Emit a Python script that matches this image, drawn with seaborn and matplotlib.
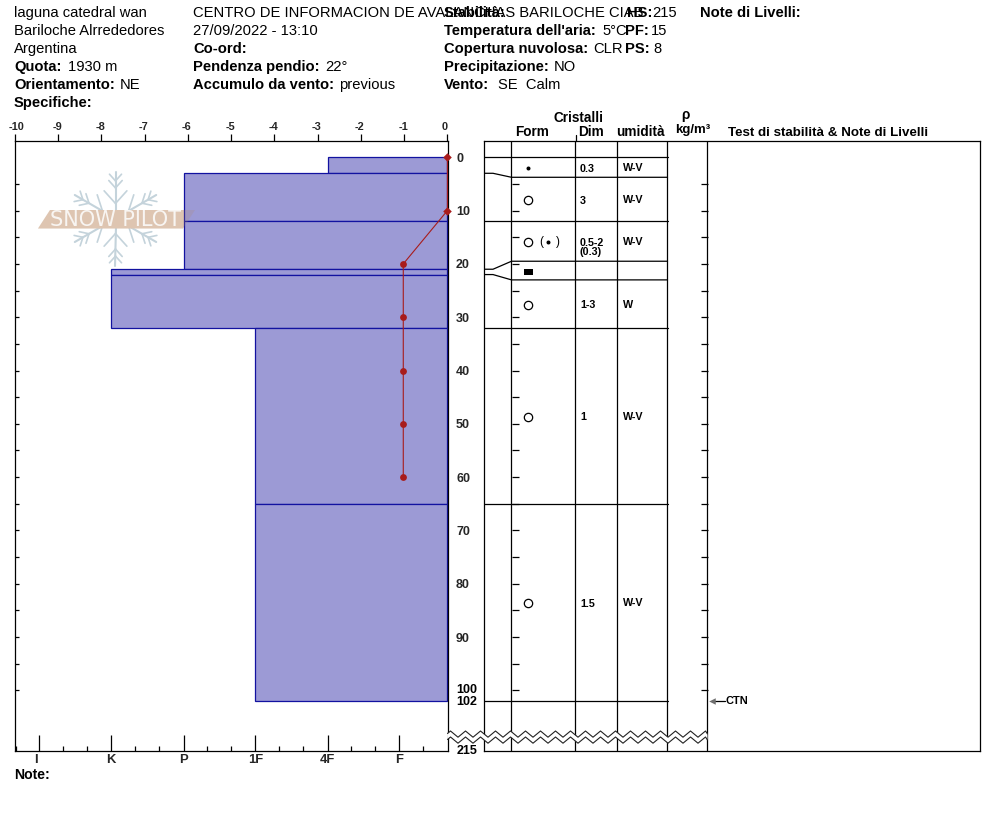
import numpy as np
import matplotlib
matplotlib.use("Agg")
import matplotlib.pyplot as plt
import seaborn as sns
import pandas as pd
from matplotlib.transforms import Affine2D, ScaledTranslation
from matplotlib.lines import Line2D
from matplotlib.patches import Polygon

W, H = 994, 840
sns.set_theme(style="white")
plt.rcParams["font.family"] = ["Liberation Sans", "DejaVu Sans"]

# ---- data ----
layer_tops = [0, 3, 12, 21, 22, 32, 65]
layer_bottoms = [3, 12, 21, 22, 32, 65, 102]
layer_hardness = [-2.77, -6.1, -6.1, -7.77, -7.77, -4.45, -4.45]
ram_depth = [0, 10, 20, 30, 40, 50, 60]
ram_force = [0, 0, -1.02, -1.02, -1.02, -1.02, -1.02]
force_ticks = [-10, -9, -8, -7, -6, -5, -4, -3, -2, -1, 0]
hardness_pos = [-9.44, -7.77, -6.1, -4.44, -2.77, -1.11]
hardness_labels = ["I", "K", "P", "1F", "4F", "F"]
row_depths = [0, 3.75, 12, 19.5, 23, 32, 65, 102]
layer_lines = [0, 3, 12, 21, 22, 32, 65, 102]
row_sizes = ["0.3", "3", "0.5-2\n(0.3)", "", "1-3", "1", "1.5"]
row_wet = ["W-V", "W-V", "W-V", "", "W", "W-V", "W-V"]
row_form = ["dot", "circle", "circle", "square", "circle", "circle", "circle"]
columns = [511, 575, 617, 667, 707]

header_rows = [12, 30, 48, 66, 84, 102]
header_items = [
    (14, 0, "laguna catedral wan", False), (14, 1, "Bariloche Alrrededores", False),
    (14, 2, "Argentina", False), (14, 3, "Quota:", True), (68, 3, "1930 m", False),
    (14, 4, "Orientamento:", True), (120, 4, "NE", False), (14, 5, "Specifiche:", True),
    (193, 0, "CENTRO DE INFORMACION DE AVALANCHAS BARILOCHE CIAB", False),
    (193, 1, "27/09/2022 - 13:10", False), (193, 2, "Co-ord:", True),
    (193, 3, "Pendenza pendio:", True), (325, 3, "22°", False),
    (193, 4, "Accumulo da vento:", True), (339, 4, "previous", False),
    (444, 0, "Stabilità:", True), (444, 1, "Temperatura dell'aria:", True), (602, 1, "5°C", False),
    (444, 2, "Copertura nuvolosa:", True), (593, 2, "CLR", False),
    (444, 3, "Precipitazione:", True), (554, 3, "NO", False),
    (444, 4, "Vento:", True), (498, 4, "SE  Calm", False),
    (627, 0, "HS:", True), (652, 0, "215", False),
    (625, 1, "PF:", True), (651, 1, "15", False),
    (625, 2, "PS:", True), (653, 2, "8", False),
    (700, 0, "Note di Livelli:", True),
]

# ---- geometry ----
D0, S = 157.3, 5.33
X0, XS = 447.4, 43.26
fig = plt.figure(figsize=(W / 100, H / 100), dpi=100)
pxT = Affine2D().scale(1 / W, -1 / H).translate(0, 1) + fig.transFigure
to_depth = lambda y: (y - D0) / S
T, B = 140.5, 751.0
LW = 0.9
BLACK = "#000000"

def px_axes(x0, x1):
    return fig.add_axes([x0 / W, 1 - B / H, (x1 - x0) / W, (B - T) / H])

def ftext(x, y, s, size=14.7, bold=False, ha="left", va="center", **kw):
    return fig.text(x, y, s, transform=pxT, fontsize=size * 0.72, ha=ha, va=va,
                    fontweight="bold" if bold else "normal", color="black", **kw)

# ---- hardness profile ----
ax = px_axes(14.5, 447.5)
ax.set_xlim((14.5 - X0) / XS, (447.5 - X0) / XS)
ax.set_ylim(to_depth(B), to_depth(T))
ax.set_facecolor("white")

# watermark under the bars
flake = "#C4D3DB"
cx, cy, R = 115.5, 218.5, 47
for ang in range(30, 360, 60):
    a = np.radians(ang)
    u = np.array([np.cos(a), -np.sin(a)])
    ax.add_line(Line2D([cx + 8 * u[0], cx + R * u[0]], [cy + 8 * u[1], cy + R * u[1]],
                       transform=pxT, color=flake, lw=1.5, zorder=0.5, clip_on=False))
    for frac, blen in [(0.32, 17), (0.65, 10), (0.8, 9)]:
        p = np.array([cx, cy]) + u * R * frac
        for sgn in (-1, 1):
            b = a + sgn * np.radians(42)
            v = np.array([np.cos(b), -np.sin(b)])
            ax.add_line(Line2D([p[0], p[0] + blen * v[0]], [p[1], p[1] + blen * v[1]],
                               transform=pxT, color=flake, lw=1.2, zorder=0.5, clip_on=False))
para = [(38, 228.5), (50, 210), (195, 210), (183, 228.5)]
ax.add_patch(Polygon(para, closed=True, transform=pxT, fc="#EBD6C4", ec="none", zorder=0.7, clip_on=False))

ax.barh(layer_tops, layer_hardness,
        height=np.array(layer_bottoms) - np.array(layer_tops), align="edge",
        color="#9C9AD5", edgecolor="#1212A0", linewidth=0.9, zorder=2)
ax.add_patch(Polygon(para, closed=True, transform=pxT, fc="#B08A70", ec="none", alpha=0.22, zorder=2.5, clip_on=False))
ax.text(116, 219.5, "SNOW PILOT", transform=pxT, fontsize=15, color="#FAF8F6", ha="center", va="center",
        family="DejaVu Sans", alpha=0.95, zorder=2.6)

ram = pd.DataFrame({"force": ram_force, "depth": ram_depth})
sns.lineplot(data=ram, x="force", y="depth", sort=False, estimator=None, color="#A81C1C",
             lw=0.8, ax=ax, zorder=4)
sns.scatterplot(data=ram.iloc[:2], x="force", y="depth", marker="D", s=19, color="#A81C1C",
                edgecolor="#A81C1C", linewidth=0, ax=ax, zorder=5, clip_on=False)
sns.scatterplot(data=ram.iloc[2:], x="force", y="depth", marker="o", s=24, color="#A81C1C",
                edgecolor="#A81C1C", linewidth=0, ax=ax, zorder=5, clip_on=False)
ax.set_xlabel("")
ax.set_ylabel("")

# bottom / top inward hardness ticks
ax.set_xticks(hardness_pos)
ax.set_xticklabels(hardness_labels, fontsize=13 * 0.72, fontweight="bold")
minor = list(np.round(np.arange(-9.44 + 0.555, -0.3, 0.5553), 3))
minor = [m for m in minor if min(abs(m - h) for h in hardness_pos) > 0.1] + [-9.98]
ax.set_xticks(minor, minor=True)
ax.tick_params(axis="x", which="major", direction="in", length=11.5, width=LW, top=True, bottom=True,
               labelbottom=True, labeltop=False, pad=2.5, color=BLACK)
ax.tick_params(axis="x", which="minor", direction="in", length=3.8, width=LW, top=True, bottom=True, color=BLACK)
lab = ax.get_xticklabels()[0]
lab.set_transform(lab.get_transform() + ScaledTranslation(-2.2 / 72, 0, fig.dpi_scale_trans))

# depth ticks on both sides
ax.set_yticks(list(range(0, 100, 10)))
ax.set_yticklabels([str(d) for d in range(0, 100, 10)], fontsize=12.5 * 0.72, fontweight="bold")
ax.set_yticks(list(range(5, 101, 10)) + [100], minor=True)
ax.tick_params(axis="y", which="both", direction="in", length=5, width=LW, left=True, right=True,
               labelleft=False, labelright=True, pad=6.2, color=BLACK)
for t in ax.yaxis.get_major_ticks() + ax.yaxis.get_minor_ticks():
    t.tick1line.set_markersize(3)
ax.yaxis.get_major_ticks()[0].tick1line.set_visible(False)
ax.yaxis.get_major_ticks()[0].tick2line.set_visible(False)
for s in ax.spines.values():
    s.set_visible(True); s.set_color(BLACK); s.set_linewidth(LW)

# top force scale
top = ax.twiny()
top.set_xlim(ax.get_xlim())
top.set_xticks(force_ticks)
top.set_xticklabels([str(f) for f in force_ticks], fontsize=11 * 0.72, fontweight="bold")
top.tick_params(axis="x", direction="out", length=5, width=LW, pad=1, color=BLACK, top=True, labeltop=True)
for s in top.spines.values():
    s.set_visible(False)
top.grid(False)
for lb, f in zip(top.get_xticklabels(), force_ticks):
    shift = {-10: 1.6, 0: -3}.get(f, -1) * 0.72
    lb.set_transform(lb.get_transform() + ScaledTranslation(shift / 72, 0, fig.dpi_scale_trans))

for (yy, s) in [(690.3, "100"), (701.6, "102"), (751.3, "215")]:
    ftext(456.5, yy, s, size=12.5, bold=True)

# ---- grain table ----
g = px_axes(483.5, 979.5)
g.set_xlim(483.5, 979.5)
g.set_ylim(ax.get_ylim())
g.set_xticks([]); g.set_yticks([])
for s in g.spines.values():
    s.set_color(BLACK); s.set_linewidth(LW); s.set_visible(True)
g.vlines(columns, to_depth(T), to_depth(B), color=BLACK, lw=LW)
for ld, rd in zip(layer_lines, row_depths):
    g.plot([483.5, 493, 511.5, 667.5], [ld, ld, rd, rd], color=BLACK, lw=LW, solid_joinstyle="miter")
dt = list(range(5, 101, 5))
g.hlines(dt, 511.5, 518.5, color=BLACK, lw=LW)
g.hlines(dt, 700.5, 707.5, color=BLACK, lw=LW)

mids = [(a + b) / 2 + 0.15 for a, b in zip(row_depths[:-1], row_depths[1:])]
for m, f, sz, wet in zip(mids, row_form, row_sizes, row_wet):
    if f == "circle":
        g.scatter([528], [m], marker="o", s=36, facecolor="white", edgecolor="black", linewidth=0.9, zorder=3)
    elif f == "dot":
        g.scatter([528], [m], marker="o", s=3.5, color="black", zorder=3)
    elif f == "square":
        g.add_patch(plt.Rectangle((524, m - 0.45), 8.7, 1.1, color="black", lw=0, zorder=3))
    if sz:
        yoff = 0.1 if "\n" not in sz else 1.0
        g.text(580, m + yoff, sz, fontsize=10.8 * 0.72, fontweight="bold", ha="left", va="center",
               linespacing=0.95, color="black")
    if wet:
        g.text(623, m, wet, fontsize=10.8 * 0.72, fontweight="bold", ha="left", va="center", color="black")
# mixed form in the third row
g.scatter([548.3], [mids[2]], marker="o", s=3.5, color="black", zorder=3)
g.text(541, mids[2], "(", fontsize=8.5, ha="center", va="center", color="black")
g.text(558, mids[2], ")", fontsize=8.5, ha="center", va="center", color="black")

# CTN arrow
g.plot([714, 725], [102, 102], color=BLACK, lw=LW, clip_on=False)
g.scatter([711.5], [102], marker="<", s=22, color="#707070", linewidth=0, zorder=4)
g.text(726, 102.1, "CTN", fontsize=11 * 0.72, fontweight="bold", va="center", color="black")

# broken axis zigzag
zx = np.arange(443, 712, 7.5)
zx = zx[(zx > 447.5) & (zx < 707.5)]
z1 = np.where(np.arange(len(zx)) % 2 == 0, 731, 737.2)
zx = np.r_[447.5, zx, 707.5]
z1 = np.r_[733.5, z1, 734]
z2 = z1 + 6
g.add_patch(Polygon(np.r_[np.c_[zx, z1], np.c_[zx, z2][::-1]], closed=True, transform=pxT, fc="white", ec="none",
                    zorder=6, clip_on=False))
g.add_line(Line2D(zx, z1, transform=pxT, color="#222222", lw=0.8, zorder=7, clip_on=False))
g.add_line(Line2D(zx, z2, transform=pxT, color="#222222", lw=0.8, zorder=7, clip_on=False))
g.set_zorder(3)
g.patch.set_alpha(0)

# small tick at crystal header
fig.add_artist(Line2D([575.5, 575.5], [135, 140.5], transform=pxT, color=BLACK, lw=LW))

# ---- headers ----
for x, r, s, bold in header_items:
    ftext(x, header_rows[r] + 0.6, s, bold=bold)
ftext(14, 775, "Note:", bold=True, size=14)
ftext(579, 118, "Cristalli", size=13.6, bold=True, ha="center")
ftext(532.5, 132.5, "Form", size=13.6, bold=True, ha="center")
ftext(591, 132.5, "Dim", size=13.6, bold=True, ha="center")
ftext(640, 132.5, "umidità", size=13.6, bold=True, ha="center")
ftext(685, 115, "ρ", size=13.6, bold=True, ha="center")
ftext(693, 130.5, "kg/m³", size=13.2, bold=True, ha="center")
ftext(828, 132.5, "Test di stabilità & Note di Livelli", size=13.4, bold=True, ha="center")

fig.savefig("out.png", dpi=100)
